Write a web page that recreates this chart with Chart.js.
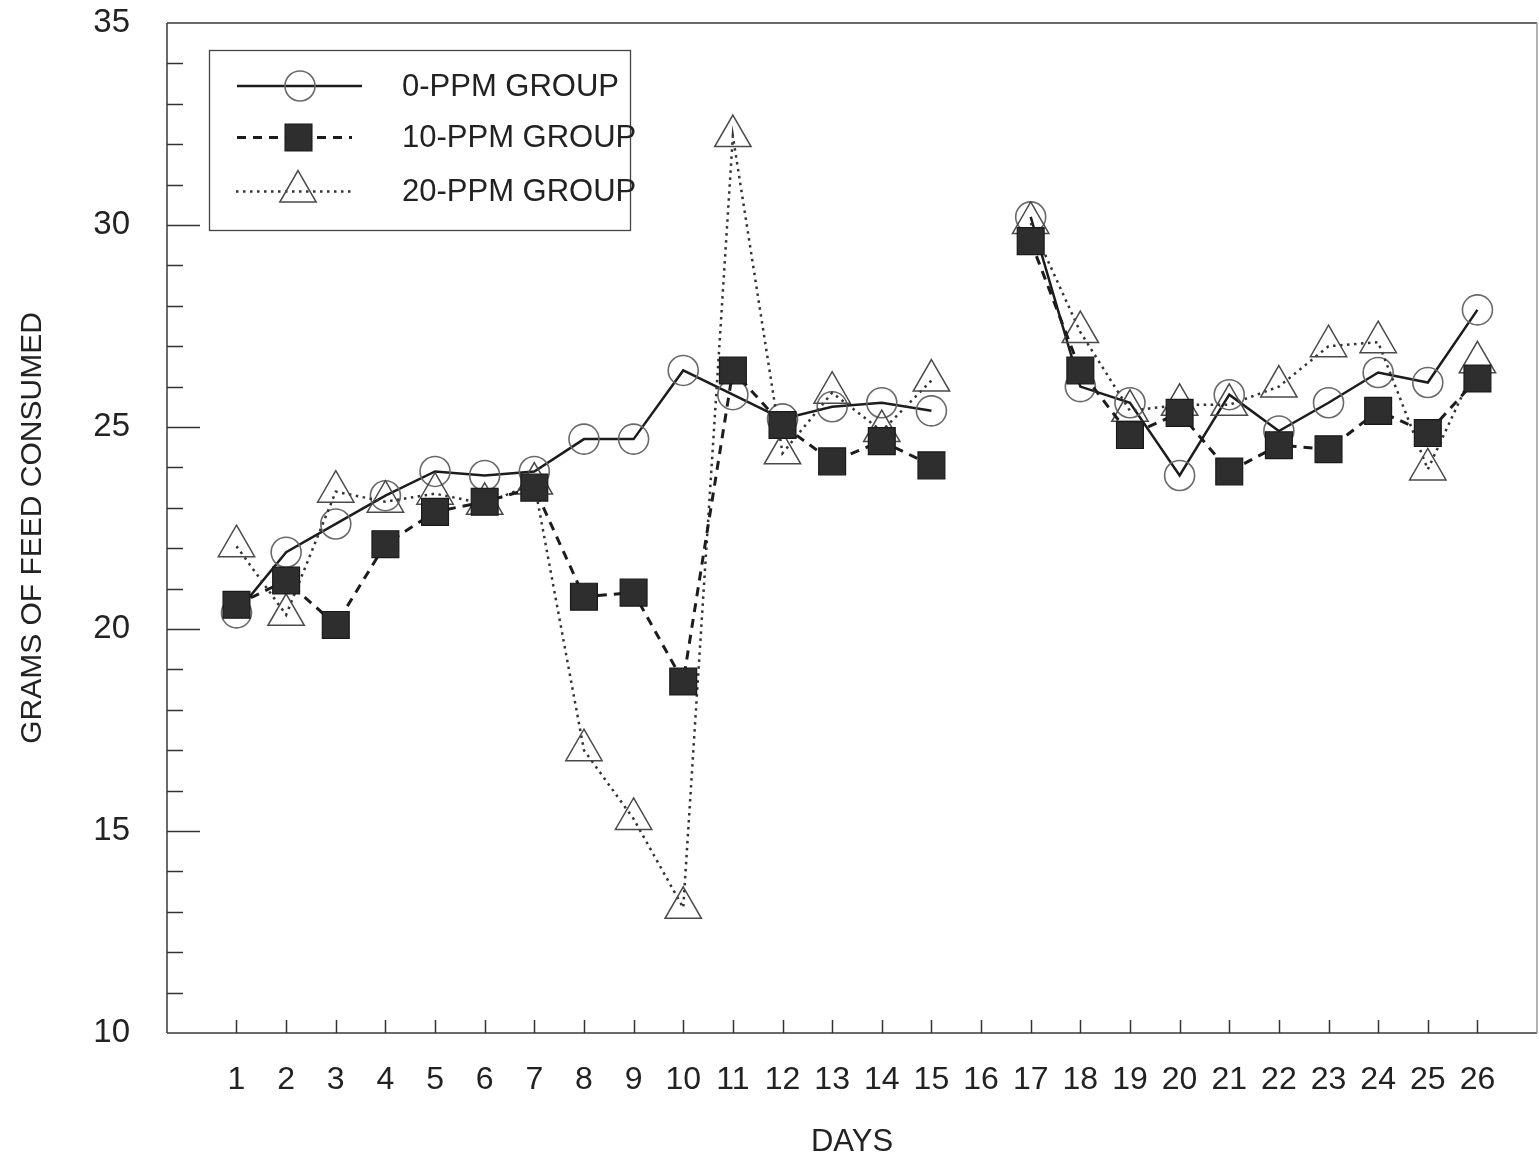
<!DOCTYPE html>
<html>
<head>
<meta charset="utf-8">
<title>Feed consumption by group</title>
<script src="https://cdn.jsdelivr.net/npm/chart.js@4.4.1/dist/chart.umd.min.js"></script>
<style>
  html, body { margin: 0; padding: 0; background: #ffffff; overflow: hidden; }
  #feedChart { display: block; }
</style>
</head>
<body>
<canvas id="feedChart" width="1539" height="1163"></canvas>
<script>
// Daily mean feed consumption (grams); day 16 has no measurement.
const days = [1, 2, 3, 4, 5, 6, 7, 8, 9, 10, 11, 12, 13, 14, 15, 16, 17, 18, 19, 20, 21, 22, 23, 24, 25, 26];
const groupNames = ['0-PPM GROUP', '10-PPM GROUP', '20-PPM GROUP'];
const ppm0 = [20.4, 21.9, 22.6, 23.3, 23.9, 23.8, 23.9, 24.7, 24.7, 26.4, 25.8, 25.2, 25.5, 25.6, 25.4, null,
              30.2, 26.0, 25.6, 23.8, 25.8, 24.9, 25.6, 26.35, 26.1, 27.9];
const ppm10 = [20.6, 21.2, 20.1, 22.1, 22.9, 23.15, 23.5, 20.8, 20.9, 18.7, 26.4, 25.05, 24.15, 24.65, 24.05, null,
               29.6, 26.4, 24.8, 25.35, 23.9, 24.55, 24.45, 25.4, 24.85, 26.2];
const ppm20 = [22.05, 20.35, 23.4, 23.15, 23.35, 23.1, 23.6, 17.0, 15.3, 13.1, 32.2, 24.35, 25.85, 24.9, 26.15, null,
               30.05, 27.35, 25.4, 25.55, 25.55, 26.0, 27.0, 27.1, 23.95, 26.6];
const yTickLabels = [10, 15, 20, 25, 30, 35];

const FONT = "'Liberation Sans', Arial, Helvetica, sans-serif";
const INK = '#222222';

const toPoints = arr => days.map((d, i) => ({ x: d, y: arr[i] }));

// Inward tick marks, plot frame and the boxed legend.
const framePlugin = {
  id: 'frameTicks',
  beforeDatasetsDraw(chart) {
    const { ctx, chartArea: a, scales: { x, y } } = chart;
    ctx.save();
    ctx.strokeStyle = '#3a3a3a';
    ctx.lineWidth = 1.5;
    ctx.beginPath();
    ctx.moveTo(a.left, a.top); ctx.lineTo(a.right, a.top);
    ctx.moveTo(a.left, a.bottom); ctx.lineTo(a.right, a.bottom);
    ctx.moveTo(a.left, a.top); ctx.lineTo(a.left, a.bottom);
    ctx.stroke();
    ctx.strokeStyle = '#9a9a9a';
    ctx.beginPath();
    ctx.moveTo(a.right, a.top); ctx.lineTo(a.right, a.bottom);
    ctx.stroke();
    // x ticks, pointing up into the plot
    ctx.strokeStyle = '#333333';
    ctx.lineWidth = 1.5;
    ctx.beginPath();
    days.forEach(d => {
      const px = Math.round(x.getPixelForValue(d)) + 0.5;
      ctx.moveTo(px, a.bottom); ctx.lineTo(px, a.bottom - 13);
    });
    // y ticks: every gram, longer at every labelled value
    for (let v = y.min + 1; v < y.max; v++) {
      const py = Math.round(y.getPixelForValue(v)) + 0.5;
      const len = yTickLabels.includes(v) ? 33 : 16;
      ctx.moveTo(a.left, py); ctx.lineTo(a.left + len, py);
    }
    ctx.stroke();
    ctx.restore();
  },
  afterDraw(chart) {
    const { ctx } = chart;
    const H = Chart.helpers;
    ctx.save();
    ctx.strokeStyle = '#444444';
    ctx.lineWidth = 1.3;
    ctx.strokeRect(209.5, 50.5, 421, 180);
    const rows = [
      { y: 86, x0: 237, x1: 362, mx: 300 },
      { y: 137.5, x0: 237, x1: 352, mx: 298.5 },
      { y: 191.5, x0: 236, x1: 355, mx: 298 }
    ];
    chart.data.datasets.forEach((ds, i) => {
      const r = rows[i];
      ctx.save();
      ctx.strokeStyle = ds.borderColor;
      ctx.lineWidth = ds.borderWidth;
      ctx.setLineDash(ds.borderDash || []);
      ctx.beginPath();
      ctx.moveTo(r.x0, r.y); ctx.lineTo(r.x1, r.y);
      ctx.stroke();
      ctx.setLineDash([]);
      ctx.fillStyle = ds.pointBackgroundColor;
      ctx.strokeStyle = ds.pointBorderColor;
      ctx.lineWidth = ds.pointBorderWidth;
      H.drawPoint(ctx, {
        pointStyle: ds.pointStyle, radius: ds.pointRadius, rotation: 0, borderWidth: ds.pointBorderWidth
      }, r.mx, r.y);
      ctx.restore();
      ctx.fillStyle = INK;
      ctx.font = '31px ' + FONT;
      ctx.textBaseline = 'middle';
      ctx.textAlign = 'left';
      ctx.fillText(ds.label, 402, r.y + 1);
    });
    ctx.restore();
  }
};

new Chart(document.getElementById('feedChart'), {
  type: 'line',
  data: {
    datasets: [
      {
        label: groupNames[0],
        data: toPoints(ppm0),
        borderColor: '#1c1c1c', borderWidth: 2.5,
        pointStyle: 'circle', pointRadius: 15,
        pointBorderColor: '#6a6a6a', pointBorderWidth: 1.6,
        pointBackgroundColor: 'rgba(0,0,0,0)',
        spanGaps: false, order: 2
      },
      {
        label: groupNames[1],
        data: toPoints(ppm10),
        borderColor: '#1c1c1c', borderWidth: 3, borderDash: [9, 7],
        pointStyle: 'rect', pointRadius: 19,
        pointBorderColor: '#1a1a1a', pointBorderWidth: 1.2,
        pointBackgroundColor: '#2e2e2e',
        spanGaps: false, order: 0
      },
      {
        label: groupNames[2],
        data: toPoints(ppm20),
        borderColor: '#333333', borderWidth: 2.5, borderDash: [2.5, 4.5],
        pointStyle: 'triangle', pointRadius: 21,
        pointBorderColor: '#4a4a4a', pointBorderWidth: 1.5,
        pointBackgroundColor: 'rgba(0,0,0,0)',
        spanGaps: false, order: 1
      }
    ]
  },
  options: {
    responsive: false,
    maintainAspectRatio: false,
    devicePixelRatio: 1,
    animation: false,
    events: [],
    layout: { autoPadding: false, padding: { top: 23, right: 2, left: 0, bottom: 0 } },
    elements: { line: { tension: 0, fill: false } },
    plugins: { legend: { display: false }, tooltip: { enabled: false } },
    scales: {
      x: {
        type: 'linear', min: -0.4, max: 27.2,
        afterBuildTicks: s => { s.ticks = days.map(d => ({ value: d })); },
        afterFit: s => { s.height = 130; s.paddingLeft = 0; s.paddingRight = 0; },
        grid: { display: false, drawTicks: false },
        border: { display: false },
        ticks: { color: INK, padding: 28, maxRotation: 0, autoSkip: false,
                 font: { family: FONT, size: 32 } },
        title: { display: true, text: 'DAYS', color: INK,
                 font: { family: FONT, size: 31 }, padding: { top: 0, bottom: 2 } }
      },
      y: {
        type: 'linear', min: 10, max: 35,
        afterBuildTicks: s => { s.ticks = yTickLabels.map(v => ({ value: v })); },
        afterFit: s => { s.width = 167; s.paddingTop = 0; s.paddingBottom = 0; },
        grid: { display: false, drawTicks: false },
        border: { display: false },
        ticks: { color: INK, padding: 37, font: { family: FONT, size: 33 } },
        title: { display: true, text: 'GRAMS OF FEED CONSUMED', color: INK,
                 font: { family: FONT, size: 30 }, padding: { top: 15, bottom: 0 } }
      }
    }
  },
  plugins: [framePlugin]
});
</script>
</body>
</html>
